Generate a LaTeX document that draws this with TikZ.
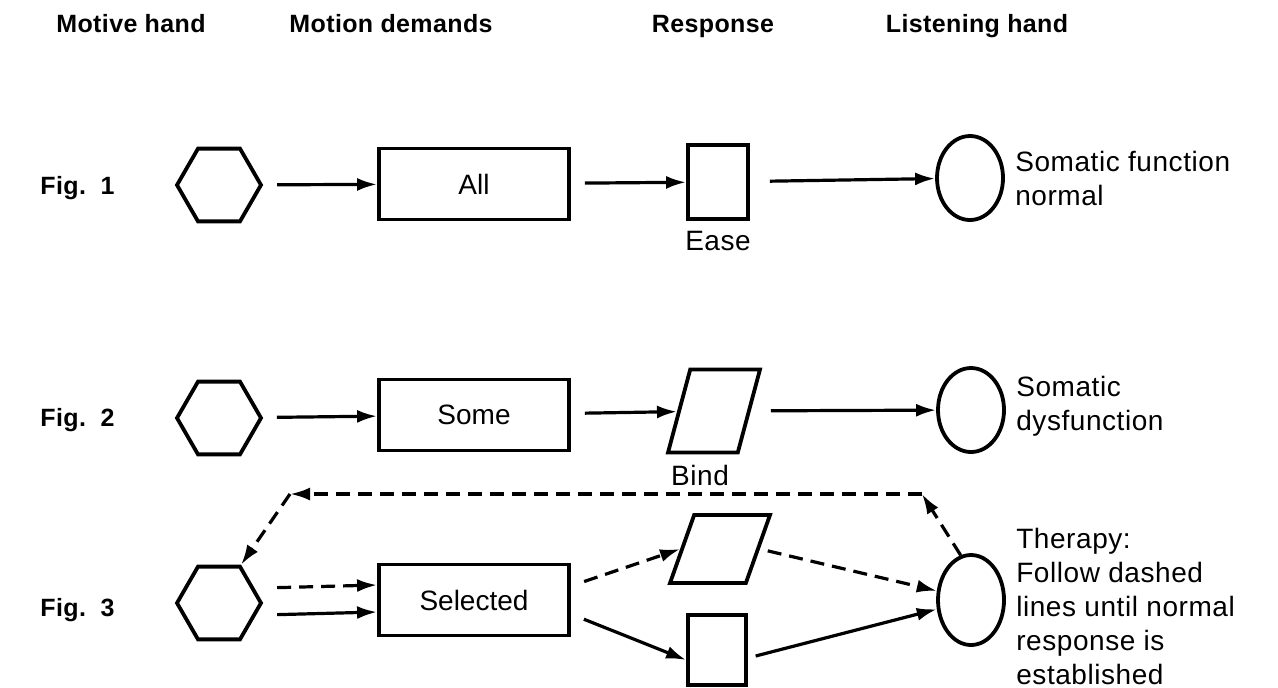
\documentclass[tikz,border=0pt]{standalone}
\usepackage{fontspec}
\setmainfont{Liberation Sans}
\usetikzlibrary{arrows.meta,calc,positioning,shapes.geometric}
\tikzset{
  hand/.style={draw,line width=1.9pt,regular polygon,regular polygon sides=6,minimum size=42pt,inner sep=0pt},
  demand/.style={draw,line width=1.9pt,rectangle,minimum width=95pt,minimum height=35.5pt,font=\fontsize{14}{16}\selectfont},
  ease/.style={draw,line width=1.9pt,rectangle,minimum width=30pt,minimum height=37pt,inner sep=0pt},
  bind/.style={draw,line width=1.9pt,trapezium,trapezium left angle=65,trapezium right angle=115,trapezium stretches=true,minimum width=46pt,minimum height=41.5pt,inner sep=2pt},
  listen/.style={draw,line width=1.9pt,ellipse,minimum width=33pt,minimum height=42pt,inner sep=0pt},
  head/.style={font=\bfseries\fontsize{12.5}{14}\selectfont\addfontfeatures{LetterSpace=1.5},inner sep=0pt},
  note/.style={align=left,font=\fontsize{14}{17}\selectfont\addfontfeatures{LetterSpace=2},inner sep=0pt},
  conn/.style={line width=1.6pt,-{Latex[length=10pt,width=6.5pt]},shorten <=7pt},
  dconn/.style={conn,dash pattern=on 7pt off 4pt}
}
\begin{document}
\begin{tikzpicture}[x=0.5pt,y=-0.5pt]
\useasboundingbox (0,0) rectangle (1278,687);

\node[head,anchor=base] (hMotive) at (131,32) {Motive hand};
\node[head,anchor=base] (hDemand) at (391,32) {Motion demands};
\node[head,anchor=base] (hResp) at (713,32) {Response};
\node[head,anchor=base] (hListen) at (977,32) {Listening hand};

\node[head,anchor=base west] (fig1) at (40,194) {Fig.\ \ 1};
\node[head,anchor=base west] (fig2) at (40,426) {Fig.\ \ 2};
\node[head,anchor=base west] (fig3) at (40,616) {Fig.\ \ 3};

% Fig. 1
\node[hand] (hex1) at (219,185) {};
\node[demand] (box1) at (474,184) {All};
\node[ease] (sq1) at (718,182) {};
\node[listen] (circ1) at (970,178) {};
\node[note,below=5pt of sq1] (lEase) {Ease};
\node[note,right=5pt of circ1] (t1) {Somatic function\\normal};
\draw[conn] (hex1) -- (box1);
\draw[conn] (box1) -- (sq1);
\draw[conn,shorten <=10pt] (sq1) -- (circ1);

% Fig. 2
\node[hand] (hex2) at (219,418) {};
\node[demand] (box2) at (474,415) {Some};
\node[bind] (par2) at (714,411) {};
\node[listen] (circ2) at (971,410) {};
\node[note,below=5pt of par2,xshift=-7pt] (lBind) {Bind};
\node[note,right=5pt of circ2,yshift=2pt] (t2) {Somatic\\dysfunction};
\draw[conn] (hex2) -- (box2);
\draw[conn] (box2) -- (par2);
\draw[conn,shorten <=10pt] (par2) -- (circ2);

% Fig. 3
\node[hand] (hex3) at (219,603) {};
\node[demand] (box3) at (474,600) {Selected};
\node[bind,minimum width=50pt,minimum height=34pt] (par3) at (720,549) {};
\node[ease,minimum height=35pt,minimum width=29pt] (sq3) at (717,650) {};
\node[listen,minimum height=45pt] (circ3) at (971,600) {};
\node[note,right=5pt of circ3,yshift=-3pt] (t3) {Therapy:\\Follow dashed\\lines until normal\\response is\\established};
\coordinate (fbR) at (922,494);
\coordinate (fbL) at (290,494);
\draw[dconn] ([yshift=7.5pt]hex3.east) -- ([yshift=7.5pt]box3.west);
\draw[conn] ([yshift=-6pt]hex3.east) -- ([yshift=-6pt]box3.west);
\draw[dconn] ([yshift=7pt]box3.east) -- (par3.west);
\draw[conn] ([yshift=-7pt]box3.east) -- ([yshift=-5pt]sq3.west);
\draw[dconn,shorten <=4pt] (par3.east) -- (circ3.165);
\draw[conn,shorten <=4pt] ([yshift=-4pt]sq3.east) -- (circ3.195);
\draw[dconn,shorten <=0pt] (circ3.103) -- (fbR);
\draw[dconn,shorten <=0pt] (fbR) -- (fbL);
\draw[dconn,shorten <=0pt] (fbL) -- (hex3.60);
\end{tikzpicture}
\end{document}
